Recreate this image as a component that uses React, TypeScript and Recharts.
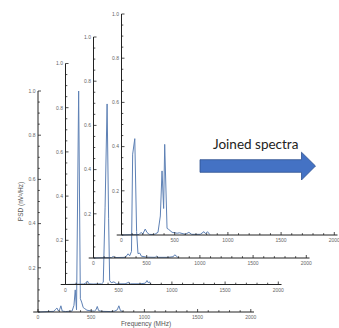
import React from 'react';
import { LineChart, Line, XAxis, YAxis, ReferenceLine } from 'recharts';

// ---- data (frequency in MHz, normalised PSD) ----
const freq1 = [0, 150, 165, 178, 190, 203, 215, 228, 260, 320, 338, 350, 362, 382, 398, 410, 425, 440, 460, 500, 530, 545, 557, 570, 600, 680, 720, 745, 760, 775, 800];
const psd1 = [0, 0.003, 0.012, 0.018, 0.006, 0.01, 0.028, 0.004, 0.002, 0.004, 0.03, 0.1, 0.01, 1.0, 0.06, 0.045, 0.02, 0.015, 0.008, 0.005, 0.004, 0.01, 0.025, 0.006, 0.003, 0.002, 0.004, 0.01, 0.028, 0.006, 0.002];

const freq2 = [0, 170, 190, 206, 220, 260, 340, 355, 372, 391, 405, 415, 430, 455, 480, 560, 595, 610, 700, 750, 766, 778, 788, 800];
const psd2 = [0, 0.002, 0.006, 0.016, 0.003, 0.002, 0.003, 0.01, 0.35, 0.817, 0.3, 0.018, 0.008, 0.012, 0.003, 0.003, 0.01, 0.003, 0.003, 0.006, 0.018, 0.008, 0.012, 0.002];

const freq3 = [0, 170, 185, 200, 300, 325, 340, 357, 368, 388, 405, 418, 435, 450, 500, 580, 591, 605, 700, 750, 762, 778, 790, 800];
const psd3 = [0, 0.002, 0.007, 0.002, 0.003, 0.019, 0.01, 0.03, 0.47, 0.54, 0.12, 0.02, 0.022, 0.008, 0.004, 0.003, 0.008, 0.003, 0.003, 0.006, 0.014, 0.01, 0.003, 0.001];

const freq4 = [0, 165, 185, 200, 223, 239, 260, 300, 318, 343, 365, 381, 396, 406, 428, 444, 476, 523, 545, 600, 633, 660, 740, 775, 790, 808, 830];
const psd4 = [0, 0.002, 0.012, 0.004, 0.027, 0.012, 0.003, 0.002, 0.005, 0.012, 0.086, 0.29, 0.12, 0.41, 0.03, 0.025, 0.012, 0.008, 0.01, 0.003, 0.012, 0.003, 0.003, 0.015, 0.006, 0.015, 0.002];

const xTicks = [0, 100, 200, 300, 400, 500, 600, 700, 800, 900, 1000, 1100, 1200, 1300, 1400, 1500, 1600, 1700, 1800, 1900, 2000];
const xLabelTicks = [0, 500, 1000, 1500, 2000];
const yTicks = [0, 0.05, 0.1, 0.15, 0.2, 0.25, 0.3, 0.35, 0.4, 0.45, 0.5, 0.55, 0.6, 0.65, 0.7, 0.75, 0.8, 0.85, 0.9, 0.95, 1.0];
const yLabelTicks = ['0.2', '0.4', '0.6', '0.8', '1.0'];

const xTitle = 'Frequency (MHz)';
const yTitle = 'PSD (nV\u00B2/Hz)';
const arrowText = 'Joined spectra';

// ---- layout ----
const PLOT_W = 216;
const PLOT_H = 221;
const X_MAX = 2030;
const X_EXT = -45;
const LINE_COLOR = '#5E81B5';
const AXIS_COLOR = '#222';
const LABEL_COLOR = '#666';
const FONT = '"Liberation Sans", Arial, sans-serif';

const panels = [
  { freq: freq1, psd: psd1, left: 38, top: 91, titles: true },
  { freq: freq2, psd: psd2, left: 65.5, top: 63.5, titles: false },
  { freq: freq3, psd: psd3, left: 93.5, top: 37, titles: false },
  { freq: freq4, psd: psd4, left: 121.5, top: 14, titles: false },
];

const XTick = (props: any) => {
  const { x, y, payload } = props;
  const major = xLabelTicks.includes(payload.value);
  return (
    <g>
      <line x1={x} x2={x} y1={y} y2={y - (major ? 3 : 1.8)} stroke={AXIS_COLOR} strokeWidth={0.8} />
      {major && (
        <text x={x} y={y + 7.2} textAnchor="middle" fontSize={5} fill={LABEL_COLOR} fontFamily={FONT}>
          {payload.value}
        </text>
      )}
    </g>
  );
};

const YTick = (props: any) => {
  const { x, y, payload } = props;
  const label = Number(payload.value).toFixed(1);
  const major = yLabelTicks.includes(label) && Math.abs(payload.value * 5 - Math.round(payload.value * 5)) < 1e-6;
  return (
    <g>
      <line x1={x} x2={x + (major ? 3 : 1.8)} y1={y} y2={y} stroke={AXIS_COLOR} strokeWidth={0.8} />
      {major && (
        <text x={x - 2.5} y={y + 1.8} textAnchor="end" fontSize={5} fill={LABEL_COLOR} fontFamily={FONT}>
          {label}
        </text>
      )}
    </g>
  );
};

function Panel({ freq, psd, left, top, titles }: any) {
  const data = freq.map((f: number, i: number) => ({ f, p: psd[i] }));
  const yAxisW = titles ? 30 : 20;
  const xAxisH = 15;
  const width = left + PLOT_W + 6;
  const height = top + PLOT_H + xAxisH + 1;
  return (
    <div style={{ position: 'absolute', left: 0, top: 0 }}>
      <LineChart
        width={width}
        height={height}
        data={data}
        margin={{ top, left: left - yAxisW, right: 6, bottom: 1 }}
      >
        <XAxis
          dataKey="f"
          type="number"
          domain={[0, X_MAX]}
          ticks={xTicks}
          interval={0}
          tickSize={0}
          tickMargin={0}
          tick={<XTick />}
          height={xAxisH}
          axisLine={{ stroke: AXIS_COLOR, strokeWidth: 1 }}
          tickLine={false}
          label={
            titles
              ? {
                  value: xTitle,
                  position: 'insideBottom',
                  offset: 1.2,
                  style: { fontSize: 6.5, fill: '#555', fontFamily: FONT, textAnchor: 'middle' },
                }
              : undefined
          }
        />
        <YAxis
          type="number"
          domain={[0, 1]}
          ticks={yTicks}
          interval={0}
          tickSize={0}
          tickMargin={0}
          tick={<YTick />}
          width={yAxisW}
          axisLine={{ stroke: AXIS_COLOR, strokeWidth: 1 }}
          tickLine={false}
          label={
            titles
              ? {
                  value: yTitle,
                  angle: -90,
                  position: 'insideLeft',
                  offset: 13,
                  style: { fontSize: 6.5, fill: '#555', fontFamily: FONT, textAnchor: 'middle' },
                }
              : undefined
          }
        />
        <ReferenceLine
          segment={[{ x: X_EXT, y: 0 }, { x: 0, y: 0 }]}
          stroke={AXIS_COLOR}
          strokeWidth={1}
          ifOverflow="visible"
        />
        <Line
          type="linear"
          dataKey="p"
          stroke={LINE_COLOR}
          strokeWidth={1}
          dot={false}
          isAnimationActive={false}
        />
      </LineChart>
    </div>
  );
}

export default function App() {
  return (
    <div style={{ position: 'absolute', left: 0, top: 0, width: 339, height: 328, background: '#fff', overflow: 'hidden' }}>
      {panels.map((p, i) => (
        <Panel key={i} {...p} />
      ))}
      <svg width={339} height={328} style={{ position: 'absolute', left: 0, top: 0, pointerEvents: 'none' }}>
        <text x={213} y={149} fontSize={13.5} fill="#222" fontFamily='Lato, "Liberation Sans", sans-serif'>
          {arrowText}
        </text>
        <polygon
          points="200,159.7 301.5,159.7 301.5,152.2 315.5,166 301.5,180 301.5,172.3 200,172.3"
          fill="#4472C4"
          stroke="#2F528F"
          strokeWidth={0.8}
        />
      </svg>
    </div>
  );
}
